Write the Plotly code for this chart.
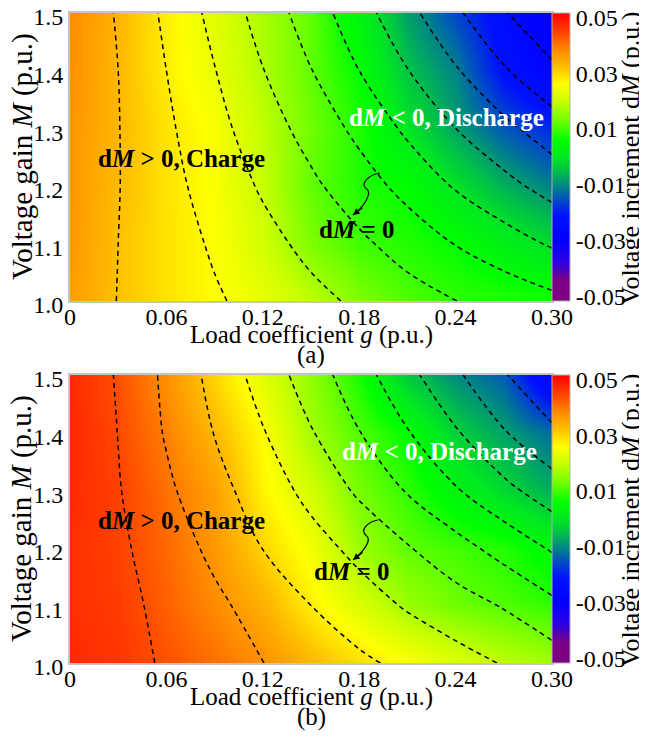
import plotly.graph_objects as go

# ---------------- data ----------------
g_vals = [0, 0.03, 0.06, 0.09, 0.12, 0.15, 0.18, 0.21, 0.24, 0.27, 0.30]
M_vals = [1.0, 1.1, 1.2, 1.3, 1.4, 1.5]

# colour field dM (rows: M = 1.0 ... 1.5)
dM_a = [
    [0.0360, 0.0320, 0.0286, 0.0260, 0.0235, 0.0194, 0.0143, 0.0110, 0.0090, 0.0085, 0.0080],
    [0.0366, 0.0320, 0.0286, 0.0260, 0.0209, 0.0140, 0.0100, 0.0080, 0.0060, 0.0020, -0.0020],
    [0.0368, 0.0326, 0.0286, 0.0253, 0.0200, 0.0120, 0.0080, 0.0060, -0.0005, -0.0065, -0.0110],
    [0.0370, 0.0330, 0.0286, 0.0253, 0.0194, 0.0130, 0.0080, 0.0000, -0.0080, -0.0145, -0.0190],
    [0.0376, 0.0330, 0.0275, 0.0235, 0.0180, 0.0120, 0.0060, -0.0045, -0.0107, -0.0220, -0.0280],
    [0.0380, 0.0333, 0.0274, 0.0226, 0.0175, 0.0120, 0.0030, -0.0080, -0.0160, -0.0240, -0.0320],
]
dM_b = [
    [0.0473, 0.0460, 0.0433, 0.0405, 0.0375, 0.0329, 0.0292, 0.0260, 0.0226, 0.0194, 0.0170],
    [0.0467, 0.0453, 0.0419, 0.0380, 0.0338, 0.0275, 0.0220, 0.0165, 0.0130, 0.0110, 0.0090],
    [0.0467, 0.0447, 0.0412, 0.0366, 0.0300, 0.0245, 0.0165, 0.0120, 0.0100, 0.0080, 0.0040],
    [0.0473, 0.0447, 0.0405, 0.0357, 0.0270, 0.0210, 0.0135, 0.0090, 0.0030, -0.0020, -0.0070],
    [0.0473, 0.0440, 0.0391, 0.0329, 0.0260, 0.0170, 0.0110, 0.0060, -0.0030, -0.0079, -0.0127],
    [0.0473, 0.0433, 0.0375, 0.0298, 0.0226, 0.0155, 0.0075, -0.0040, -0.0100, -0.0140, -0.0280],
]

# contour-line index field (dashed iso-lines 1..10), rows: M = 1.0 ... 1.5
iso_a = [
    [0, 1.04, 1.46, 1.89, 2.32, 2.74, 3.16, 3.58, 3.99, 4.37, 4.75],
    [0, 1.00, 1.56, 2.12, 2.69, 3.26, 3.81, 4.42, 5.04, 5.58, 6.11],
    [0, 0.97, 1.69, 2.40, 3.12, 3.81, 4.55, 5.32, 6.09, 6.72, 7.36],
    [0, 0.97, 1.83, 2.69, 3.53, 4.37, 5.26, 6.19, 7.00, 7.75, 8.54],
    [0, 1.00, 2.00, 2.97, 3.97, 4.97, 6.00, 6.97, 7.91, 8.90, 9.77],
    [0, 1.11, 2.19, 3.29, 4.40, 5.50, 6.60, 7.71, 8.83, 9.91, 11.0],
]
iso_b = [
    [0, 0.59, 1.13, 1.56, 1.99, 2.40, 2.82, 3.23, 3.64, 4.06, 4.50],
    [0, 0.68, 1.28, 1.80, 2.38, 3.00, 3.56, 4.10, 4.57, 5.07, 5.77],
    [0, 0.81, 1.51, 2.22, 3.02, 3.63, 4.27, 4.93, 5.64, 6.38, 7.11],
    [0, 0.94, 1.82, 2.67, 3.47, 4.29, 5.16, 6.08, 6.92, 7.73, 8.53],
    [0, 1.02, 2.09, 3.03, 3.94, 4.93, 5.97, 6.94, 7.90, 8.93, 9.80],
    [0, 1.11, 2.20, 3.31, 4.40, 5.50, 6.60, 7.71, 8.83, 9.91, 11.0],
]

x_ticks = [0, 0.06, 0.12, 0.18, 0.24, 0.30]
x_tick_text = ["0", "0.06", "0.12", "0.18", "0.24", "0.30"]
y_ticks = [1.0, 1.1, 1.2, 1.3, 1.4, 1.5]
y_tick_text = ["1.0", "1.1", "1.2", "1.3", "1.4", "1.5"]
cb_ticks = [0.05, 0.03, 0.01, -0.01, -0.03, -0.05]
cb_tick_text = ["0.05", "0.03", "0.01", "-0.01", "-0.03", "-0.05"]

# ---------------- styling ----------------
FONT = "Liberation Serif, Times New Roman, serif"
OFF = 8                      # page body margin of the browser
W, H = 647 - OFF, 739 - OFF  # figure size so that it fills the window
ZMIN, ZMAX = -0.0515, 0.0515
stops = [(ZMIN, "#800080"), (-0.044, "#7A0088"), (-0.038, "#3000E0"), (-0.030, "#0000FF"),
         (-0.021, "#0010FF"), (-0.015, "#0050C0"), (-0.010, "#008A80"), (-0.005, "#00C048"),
         (0.000, "#00E820"), (0.006, "#00FF00"), (0.013, "#70FF00"), (0.020, "#C8FF00"),
         (0.026, "#FFFF00"), (0.032, "#FFC000"), (0.038, "#FF8C00"), (0.044, "#FF4800"),
         (ZMAX, "#FF0000")]
colorscale = [[(z - ZMIN) / (ZMAX - ZMIN), c] for z, c in stops]

LEFT, RIGHT = 70, 552           # window pixels
panels = [(13, 301), (375, 663)]

def fx(px):
    return (px - OFF) / W

def fy(py):
    return 1 - (py - OFF) / H

fig = go.Figure()
shapes = []
annotations = []

arrow_paths = [
    [(0.1929, 1.2222), (0.1860, 1.2190), (0.1800, 1.2030), (0.1845, 1.1950),
     (0.1885, 1.1880), (0.1830, 1.1640), (0.1761, 1.1493)],
    [(0.1917, 1.2483), (0.1850, 1.2450), (0.1800, 1.2300), (0.1845, 1.2210),
     (0.1880, 1.2140), (0.1830, 1.1940), (0.1761, 1.1788)],
]
label_pos = [
    dict(charge=(0.0697, 1.248), dis=(0.2346, 1.3194), zero=(0.1786, 1.1233)),
    dict(charge=(0.0697, 1.248), dis=(0.2297, 1.368), zero=(0.1755, 1.158)),
]

def txt(text, x, y, size, color="black", angle=0, xref="paper", yref="paper"):
    return dict(text=text, xref=xref, yref=yref, x=x, y=y, showarrow=False,
                xanchor="center", yanchor="middle", textangle=angle,
                font=dict(family=FONT, size=size, color=color))

for i, (fields, iso, cap) in enumerate([(dM_a, iso_a, "(a)"), (dM_b, iso_b, "(b)")]):
    top, bot = panels[i]
    xa = "x" if i == 0 else "x2"
    ya = "y" if i == 0 else "y2"
    fig.add_trace(go.Heatmap(
        x=g_vals, y=M_vals, z=fields, zsmooth="best", zmin=ZMIN, zmax=ZMAX,
        colorscale=colorscale, xaxis=xa, yaxis=ya, showscale=True,
        colorbar=dict(x=fx(RIGHT), xanchor="left", xpad=0, ypad=0,
                      y=fy((top + bot) / 2), yanchor="middle",
                      len=(bot - top) / H, lenmode="fraction",
                      thickness=18, thicknessmode="pixels",
                      tickvals=cb_ticks, ticktext=cb_tick_text, ticks="",
                      ticklabeloverflow="allow",
                      tickfont=dict(family=FONT, size=24, color="black"),
                      outlinewidth=1, outlinecolor="#B0B0B0")))
    fig.add_trace(go.Contour(
        x=g_vals, y=M_vals, z=iso, xaxis=xa, yaxis=ya, showscale=False,
        contours=dict(start=1, end=10, size=1, coloring="none"),
        line=dict(color="black", width=1.5, dash="5px,4px", smoothing=1.0),
        hoverinfo="skip"))

    axis_common = dict(showgrid=False, zeroline=False, ticks="", showline=True,
                       linecolor="#C4C4C4", linewidth=2, mirror=True,
                       ticklabeloverflow="allow",
                       tickfont=dict(family=FONT, size=24, color="black"))
    fig.update_layout(**{
        ("xaxis" if i == 0 else "xaxis2"): dict(
            domain=[fx(LEFT), fx(RIGHT)], anchor=ya, range=[0, 0.30],
            tickvals=x_ticks, ticktext=x_tick_text, ticklabelstandoff=-7, **axis_common),
        ("yaxis" if i == 0 else "yaxis2"): dict(
            domain=[fy(bot), fy(top)], anchor=xa, range=[1.0, 1.5],
            tickvals=y_ticks, ticktext=y_tick_text, ticklabelshift=4, **axis_common),
    })

    # axis titles and caption
    annotations.append(txt("Load coefficient <i>g</i> (p.u.)", fx(311), fy(bot + 34), 25))
    annotations.append(txt(cap, fx(311), fy(bot + 54), 25))
    annotations.append(txt("Voltage gain <i>M</i> (p.u.)", fx(22), fy((top + bot) / 2), 29, angle=-90))
    annotations.append(txt("Voltage increment d<i>M</i> (p.u.)", fx(630), fy((top + bot) / 2 + 2), 26,
                           angle=-90))

    lp = label_pos[i]
    annotations.append(txt("<b>d<i>M</i> &gt; 0, Charge</b>", lp["charge"][0], lp["charge"][1], 25,
                           xref=xa, yref=ya))
    annotations.append(txt("<b>d<i>M</i> &lt; 0, Discharge</b>", lp["dis"][0], lp["dis"][1], 25,
                           color="white", xref=xa, yref=ya))
    annotations.append(txt("<b>d<i>M</i> = 0</b>", lp["zero"][0], lp["zero"][1], 25,
                           xref=xa, yref=ya))

    p = arrow_paths[i]
    path = "M {},{} C {},{} {},{} {},{} C {},{} {},{} {},{}".format(
        *[v for pt in p for v in pt])
    shapes.append(dict(type="path", path=path, xref=xa, yref=ya,
                       line=dict(color="black", width=1.2)))
    annotations.append(dict(x=p[-1][0], y=p[-1][1], ax=p[-2][0], ay=p[-2][1],
                            xref=xa, yref=ya, axref=xa, ayref=ya, text="",
                            showarrow=True, arrowhead=2, arrowsize=1.1, arrowwidth=1.2,
                            arrowcolor="black", standoff=0))

fig.update_layout(width=W, height=H,
                  margin=dict(l=0, r=0, t=0, b=0, pad=0, autoexpand=False),
                  paper_bgcolor="white", plot_bgcolor="white",
                  showlegend=False, shapes=shapes, annotations=annotations,
                  font=dict(family=FONT, color="black"))

fig.write_html("out.html")
